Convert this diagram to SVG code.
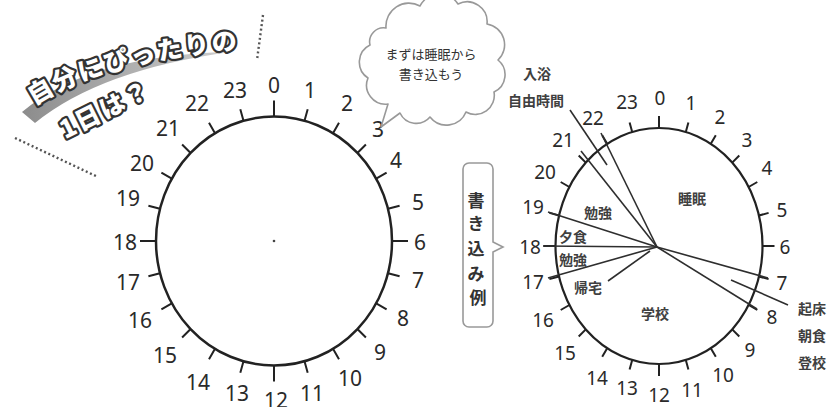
<svg xmlns="http://www.w3.org/2000/svg" width="840" height="407" viewBox="0 0 840 407">
<defs>
<style>
.num{font-family:"Noto Sans","DejaVu Sans",sans-serif;fill:#2a2a2a;text-anchor:middle;dominant-baseline:central}
.n1{font-size:21px}
.n2{font-size:19px}
.lbl{font-family:"Noto Sans CJK JP","Noto Sans",sans-serif;font-size:14px;font-weight:bold;fill:#404040;text-anchor:middle;dominant-baseline:central}
.ring{fill:none;stroke:#222;stroke-width:2.5}
.tick{fill:none;stroke:#222;stroke-width:2}
.conn{stroke:#2e2e2e;stroke-width:1.6;fill:none}
.dots{stroke:#555;stroke-width:2.4;stroke-dasharray:2 2.6;fill:none}
.title{font-family:"Noto Sans CJK JP",sans-serif;font-weight:900;font-size:25px;fill:#fff;stroke:#333;stroke-width:4.5;stroke-linejoin:round;paint-order:stroke;dominant-baseline:central}
.bub{font-family:"Noto Sans CJK JP",sans-serif;font-size:13px;fill:#333;text-anchor:middle;dominant-baseline:central}
</style>
<linearGradient id="sw" x1="0" y1="0" x2="1" y2="0">
<stop offset="0" stop-color="#8c8c8c"/>
<stop offset="1" stop-color="#cfcfcf"/>
</linearGradient>
<path id="tp1" d="M28,97 Q95,50 260,36"/>
<path id="tp2" d="M55,132 Q95,112 180,70"/>
<clipPath id="c4"><rect x="380" y="140" width="23" height="40"/></clipPath>
</defs>

<g id="title">
<path d="M22,112 Q90,55 230,52 Q100,70 35,123 Z" fill="url(#sw)"/>
<text class="title"><textPath href="#tp1" startOffset="1" letter-spacing="2.5">自分にぴったりの</textPath></text>
<text class="title"><textPath href="#tp2" startOffset="6" letter-spacing="2">1日は？</textPath></text>
</g>

<g id="dotted-lines">
<path class="dots" d="M263,15 L257,60"/>
<path class="dots" d="M15,138 L98,177"/>
</g>

<g id="clock-left">
<g transform="translate(274,241)">
<ellipse class="ring" cx="0" cy="0" rx="118" ry="124.5"/>
<path class="tick" d="M0,-124.5V-140.5M30.5,-120.3L33.7,-131.8M59,-107.8L65,-118.2M83.4,-88L91.9,-96.5M102.2,-62.3L112.6,-68.3M114,-32.2L125.6,-35.3M118,0H134M114,32.2L125.6,35.3M102.2,62.3L112.6,68.3M83.4,88L91.9,96.5M59,107.8L65,118.2M30.5,120.3L33.7,131.8M0,124.5V140.5M-30.5,120.3L-33.7,131.8M-59,107.8L-65,118.2M-83.4,88L-91.9,96.5M-102.2,62.3L-112.6,68.3M-114,32.2L-125.6,35.3M-118,0H-134M-114,-32.2L-125.6,-35.3M-102.2,-62.3L-112.6,-68.3M-83.4,-88L-91.9,-96.5M-59,-107.8L-65,-118.2M-30.5,-120.3L-33.7,-131.8"/>
<circle cx="0" cy="0" r="1.3" fill="#444"/>
</g>
<g class="num n1">
<text x="274" y="85">0</text>
<text x="310" y="90">1</text>
<text x="347" y="103">2</text>
<text x="378" y="129">3</text>
<text x="396" y="160" clip-path="url(#c4)">4</text>
<text x="418" y="202">5</text>
<text x="420" y="242">6</text>
<text x="418" y="280">7</text>
<text x="403" y="318">8</text>
<text x="380" y="352">9</text>
<text x="350" y="378">10</text>
<text x="312" y="393">11</text>
<text x="276" y="400">12</text>
<text x="237" y="393">13</text>
<text x="198" y="382">14</text>
<text x="165" y="355">15</text>
<text x="140" y="320">16</text>
<text x="128" y="282">17</text>
<text x="125" y="242">18</text>
<text x="128" y="198">19</text>
<text x="142" y="163">20</text>
<text x="168" y="128">21</text>
<text x="197" y="103">22</text>
<text x="235" y="90">23</text>
</g>
</g>

<g id="bubble">
<path d="M386,28 A23,23 0 0 1 420,6 A22,22 0 0 1 458,4 A20,20 0 0 1 487,24 A21,21 0 0 1 498,60 A19,19 0 0 1 494,92 A19,19 0 0 1 466,112 A21,21 0 0 1 430,117 A18,18 0 0 1 400,113 L381,127 L388,104 A19,19 0 0 1 368,78 A19,19 0 0 1 370,45 A14,14 0 0 1 386,28 Z" fill="#fff" stroke="#999" stroke-width="1.6" stroke-linejoin="round"/>
<text class="bub" x="431" y="53">まずは睡眠から</text>
<text class="bub" x="431" y="73">書き込もう</text>
</g>

<g id="example-tag">
<path d="M469,163 H487 A6,6 0 0 1 493,169 V242 L503,247 L493,252 V321 A6,6 0 0 1 487,327 H469 A6,6 0 0 1 463,321 V169 A6,6 0 0 1 469,163 Z" fill="#fff" stroke="#999" stroke-width="1.6"/>
<text font-family="Noto Sans CJK JP,sans-serif" font-size="17" font-weight="bold" fill="#333" text-anchor="middle" dominant-baseline="central">
<tspan x="478" y="199">書</tspan>
<tspan x="478" y="222">き</tspan>
<tspan x="478" y="247">込</tspan>
<tspan x="478" y="272">み</tspan>
<tspan x="478" y="296">例</tspan>
</text>
</g>

<g id="clock-right">
<g transform="translate(659,246)">
<ellipse class="ring" cx="0" cy="0" rx="103.5" ry="118" style="stroke-width:2.2"/>
<path class="tick" d="M0,-118V-130M26.8,-114L29.4,-123.6M51.8,-102.2L56.8,-110.8M73.2,-83.4L80.3,-90.5M89.6,-59L98.3,-64M100,-30.5L109.6,-33.1M103.5,0H115.5M100,30.5L109.6,33.1M89.6,59L98.3,64M73.2,83.4L80.3,90.5M51.8,102.2L56.8,110.8M26.8,114L29.4,123.6M0,118V130M-26.8,114L-29.4,123.6M-51.8,102.2L-56.8,110.8M-73.2,83.4L-80.3,90.5M-89.6,59L-98.3,64M-100,30.5L-109.6,33.1M-103.5,0H-115.5M-100,-30.5L-109.6,-33.1M-89.6,-59L-98.3,-64M-73.2,-83.4L-80.3,-90.5M-51.8,-102.2L-56.8,-110.8M-26.8,-114L-29.4,-123.6"/>
</g>
<g class="num n2">
<text x="660" y="98">0</text>
<text x="691" y="103">1</text>
<text x="720" y="117">2</text>
<text x="747" y="140">3</text>
<text x="767" y="168">4</text>
<text x="782" y="210">5</text>
<text x="785" y="247">6</text>
<text x="782" y="283">7</text>
<text x="772" y="317">8</text>
<text x="750" y="350">9</text>
<text x="723" y="375">10</text>
<text x="692" y="390">11</text>
<text x="659" y="395">12</text>
<text x="627" y="388">13</text>
<text x="597" y="378">14</text>
<text x="565" y="353">15</text>
<text x="543" y="320">16</text>
<text x="533" y="282">17</text>
<text x="530" y="247">18</text>
<text x="533" y="207">19</text>
<text x="545" y="172">20</text>
<text x="563" y="140">21</text>
<text x="593" y="118">22</text>
<text x="627" y="102">23</text>
</g>
</g>

<g id="connectors">
<path class="conn" d="M657,247 L601,133"/>
<path class="conn" d="M657,247 L581,151"/>
<path class="conn" d="M657,247 L548,212"/>
<path class="conn" d="M657,247 L543,246"/>
<path class="conn" d="M657,247 L548,278"/>
<path class="conn" d="M657,247 L768,278"/>
<path class="conn" d="M657,247 L757,309"/>
<path class="conn" d="M570,110 L607,165"/>
<path class="conn" d="M608,281 L650,251"/>
<path class="conn" d="M731,280 L788,305"/>
</g>

<g id="labels">
<text class="lbl" x="692" y="198">睡眠</text>
<text class="lbl" x="655" y="313">学校</text>
<text class="lbl" x="598" y="212">勉強</text>
<text class="lbl" x="573" y="236">夕食</text>
<text class="lbl" x="573" y="259">勉強</text>
<text class="lbl" x="588" y="287">帰宅</text>
<text class="lbl" x="537" y="73">入浴</text>
<text class="lbl" x="536" y="100">自由時間</text>
<text class="lbl" x="812" y="308">起床</text>
<text class="lbl" x="812" y="335">朝食</text>
<text class="lbl" x="812" y="362">登校</text>
</g>
</svg>
